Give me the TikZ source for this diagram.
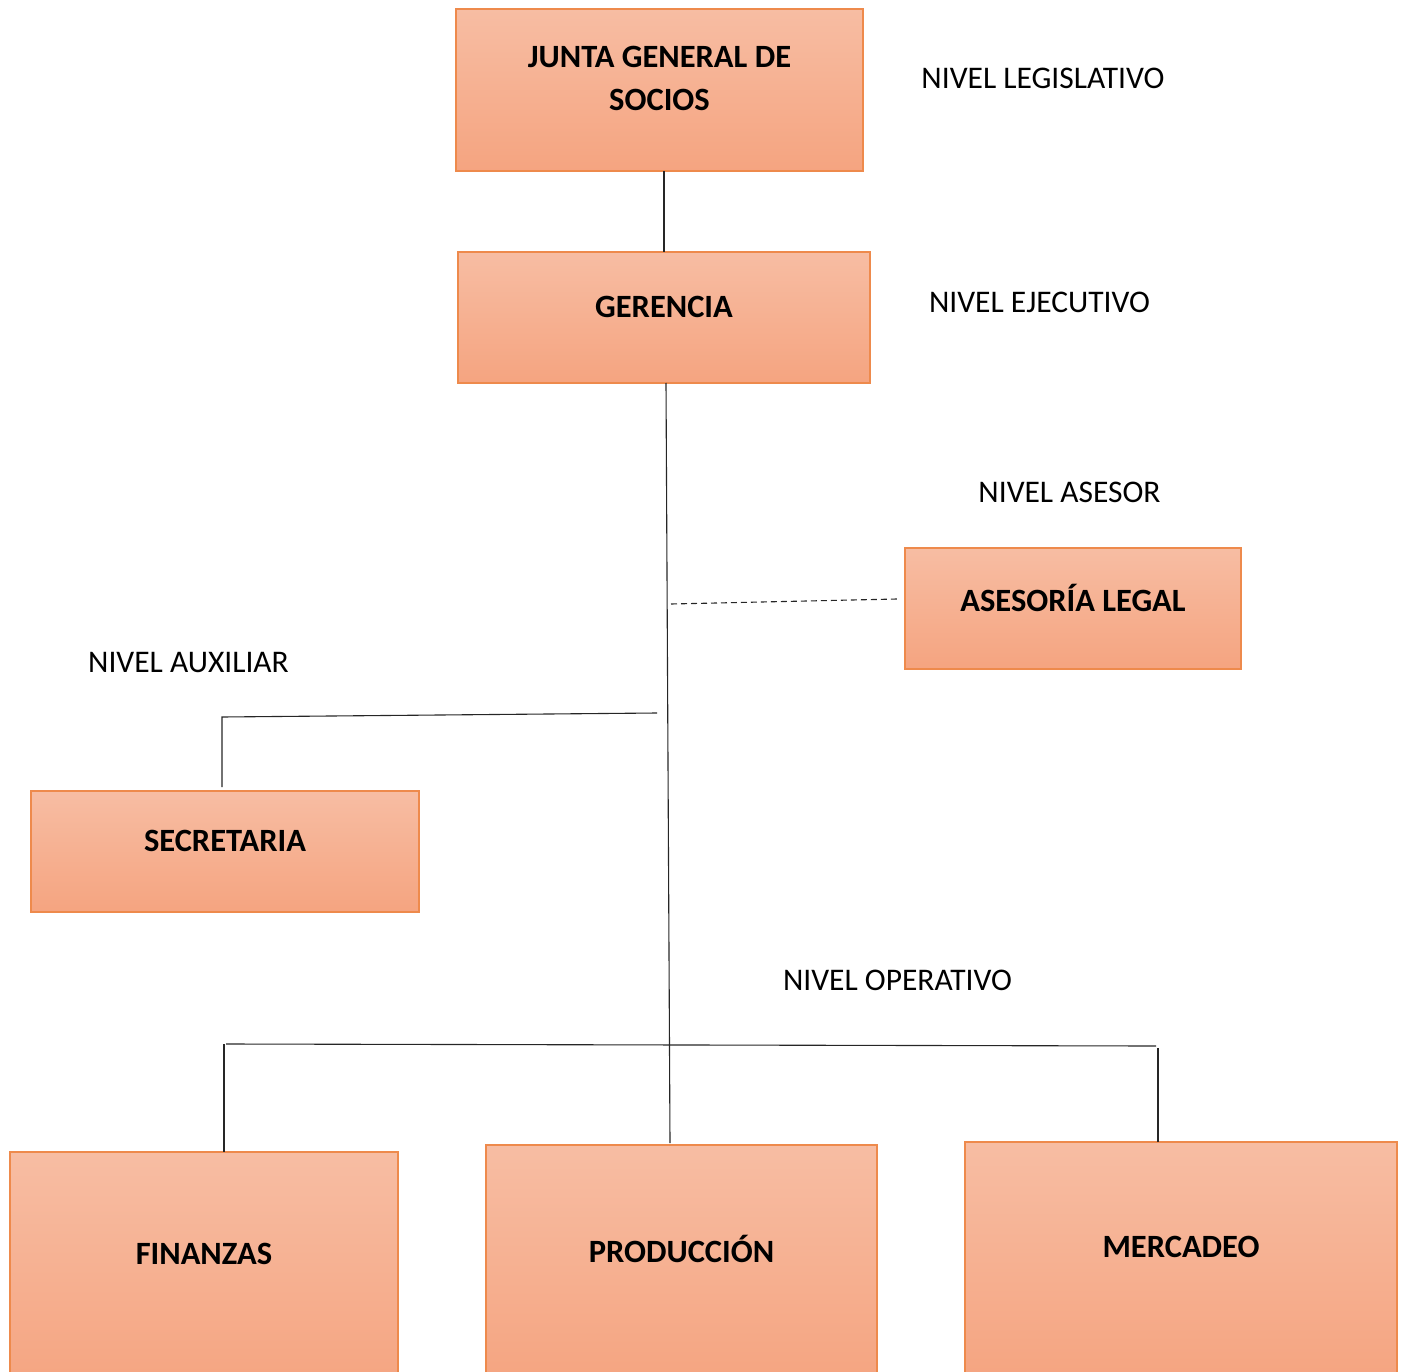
\documentclass[tikz,border=0pt]{standalone}
\usepackage{fontspec}
\setmainfont{Carlito}
\definecolor{boxtop}{HTML}{F7BDA3}
\definecolor{boxbot}{HTML}{F5A480}
\definecolor{boxedge}{HTML}{EE8A4C}
\begin{document}
\begin{tikzpicture}[x=1pt,y=-1pt,
  box/.style={draw=boxedge, line width=1.3pt, top color=boxtop, bottom color=boxbot, shading angle=0, rectangle, inner sep=0pt},
  boxtext/.style={font=\fontsize{32.5}{43}\selectfont\bfseries, align=center, inner sep=0pt},
  lvl/.style={font=\fontsize{31.5}{36}\selectfont, inner sep=0pt},
  conn/.style={line width=1.1pt, black!85}]
\useasboundingbox (0,0) rectangle (1405,1372);
\clip (0,0) rectangle (1405,1372);
% boxes
\node[box, minimum width=407pt, minimum height=162pt] (junta) at (659.5,90) {};
\node[boxtext] (juntaT) at (659.5,78.5) {JUNTA GENERAL DE\\SOCIOS};
\node[box, minimum width=412pt, minimum height=131pt] (ger) at (664,317.5) {};
\node[boxtext] (gerT) at (664,307) {GERENCIA};
\node[box, minimum width=336pt, minimum height=121pt] (ase) at (1073,608.5) {};
\node[boxtext] (aseT) at (1073,598) {ASESORÍA LEGAL};
\node[box, minimum width=388pt, minimum height=121pt] (sec) at (225,851.5) {};
\node[boxtext] (secT) at (225,841) {SECRETARIA};
\node[box, minimum width=388pt, minimum height=240pt] (fin) at (204,1272) {};
\node[boxtext] (finT) at (204,1254) {FINANZAS};
\node[box, minimum width=391pt, minimum height=240pt] (pro) at (681.5,1265) {};
\node[boxtext] (proT) at (681.5,1249) {PRODUCCIÓN};
\node[box, minimum width=432pt, minimum height=240pt] (mer) at (1181,1262) {};
\node[boxtext] (merT) at (1181,1247) {MERCADEO};
% level labels
\node[lvl] (lleg) at (1043,78) {NIVEL LEGISLATIVO};
\node[lvl] (leje) at (1039.5,302) {NIVEL EJECUTIVO};
\node[lvl] (lase) at (1069.5,492) {NIVEL ASESOR};
\node[lvl] (laux) at (188.5,663) {NIVEL AUXILIAR};
\node[lvl] (lope) at (897.5,980) {NIVEL OPERATIVO};
% coordinates
\coordinate (g1) at (664,171);
\coordinate (g2) at (664,252);
\coordinate (mtop) at (666,383);
\coordinate (mbot) at (670,1143);
\coordinate (d1) at (671,604);
\coordinate (d2) at (897,599);
\coordinate (s1) at (657,713);
\coordinate (s2) at (222,717);
\coordinate (s3) at (222,787);
\coordinate (o1) at (226,1044);
\coordinate (o2) at (1156,1046);
\coordinate (f1) at (224,1044);
\coordinate (f2) at (224,1152);
\coordinate (m1) at (1158,1048);
\coordinate (m2) at (1158,1142);
% connectors
\draw[conn] (g1) -- (g2);
\draw[conn] (mtop) -- (mbot);
\draw[conn, dashed, dash pattern=on 6pt off 4pt] (d1) -- (d2);
\draw[conn] (s1) -- (s2) -- (s3);
\draw[conn] (o1) -- (o2);
\draw[conn] (f1) -- (f2);
\draw[conn] (m1) -- (m2);
\end{tikzpicture}
\end{document}
